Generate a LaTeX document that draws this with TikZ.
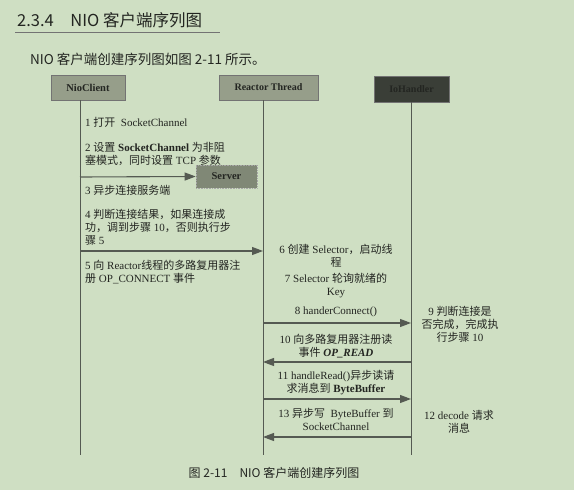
\documentclass[tikz,border=0pt]{standalone}
\usepackage{fontspec}
\setmainfont{Liberation Serif}
\newfontfamily\cjk{Noto Sans CJK SC}
\newcommand\zh[1]{{\cjk #1}}
\usetikzlibrary{arrows.meta}
\definecolor{bg}{RGB}{207,223,195}
\definecolor{boxc}{RGB}{150,158,138}
\definecolor{darkc}{RGB}{58,62,55}
\definecolor{servc}{RGB}{128,136,118}
\definecolor{linec}{RGB}{85,90,82}
\definecolor{txtc}{RGB}{35,37,33}

\begin{document}
\begin{tikzpicture}[x=1pt,y=-1pt,
    actor/.style={draw=black!55,line width=.6pt,minimum width=74pt,minimum height=25pt,inner sep=0pt,
      font=\fontsize{10.5}{11}\selectfont\bfseries,text=txtc},
    life/.style={draw=linec,line width=1pt},
    msg/.style={draw=linec,line width=1.1pt,-{Triangle[length=11pt,width=8pt]}},
    txt/.style={font=\fontsize{11}{13}\selectfont,text=txtc,inner sep=0pt}]
  \fill[bg] (0,0) rectangle (574,490);
  \useasboundingbox (0,0) rectangle (574,490);

  \node[anchor=base west,inner sep=0pt,text=txtc,font=\cjk\fontsize{16.5}{18}\selectfont] (title) at (17,26) {2.3.4\quad NIO 客户端序列图};
  \draw[black!55,line width=.8pt] (15,32) -- (220,32);
  \node[anchor=base west,inner sep=0pt,text=txtc,font=\cjk\fontsize{13.5}{15}\selectfont] (intro) at (30,64) {NIO 客户端创建序列图如图 2-11 所示。};

  \node[actor,fill=boxc] (client) at (88,87.5) {NioClient};
  \node[actor,fill=boxc,minimum width=99pt,font=\fontsize{10}{11}\selectfont\bfseries] (reactor) at (268.5,87.5) {Reactor Thread};
  \node[actor,fill=darkc,minimum width=75pt,minimum height=26pt,font=\fontsize{10}{11}\selectfont\bfseries] (io) at (411.5,89) {IoHandler};

  \coordinate (cend) at (80,455);
  \coordinate (rend) at (263,455);
  \coordinate (iend) at (411,455);
  \draw[life] (client.south -| cend) -- (cend);
  \draw[life] (reactor.south -| rend) -- (rend);
  \draw[life] (io.south -| iend) -- (iend);

  \node[actor,fill=servc,draw=black!35,densely dotted,minimum width=61pt,minimum height=23pt] (server) at (226.5,176.5) {Server};

  \node[txt,anchor=west] (l1) at (85,122) {1 \zh{打开}\ \ SocketChannel};
  \node[txt,anchor=west,align=left] (l2) at (85,154) {2 \zh{设置} \textbf{SocketChannel} \zh{为非阻}\\\zh{塞模式，同时设置} TCP \zh{参数}};
  \node[txt,anchor=west] (l3) at (85,190) {3 \zh{异步连接服务端}};
  \node[txt,anchor=west,align=left] (l4) at (85,227.5) {4 \zh{判断连接结果，如果连接成}\\\zh{功，调到步骤} 10\zh{，否则执行步}\\\zh{骤} 5};
  \node[txt,anchor=west,align=left] (l5) at (85,272.5) {5 \zh{向} Reactor\zh{线程的多路复用器注}\\\zh{册} OP\_CONNECT \zh{事件}};

  \node[txt,align=center] (l6) at (336,255.5) {6 \zh{创建} Selector\zh{，启动线}\\\zh{程}};
  \node[txt,align=center] (l7) at (336,286) {7 Selector \zh{轮询就绪的}\\Key};
  \node[txt,align=center] (l8) at (336,312) {8 handerConnect()};
  \node[txt,align=center] (l9) at (460,324.5) {9 \zh{判断连接是}\\\zh{否完成，完成执}\\\zh{行步骤} 10};
  \node[txt,align=center] (l10) at (336,346.5) {10 \zh{向多路复用器注册读}\\\zh{事件} \textbf{\textit{OP\_READ}}};
  \node[txt,align=center] (l11) at (336,383) {11 handleRead()\zh{异步读请}\\\zh{求消息到} \textbf{ByteBuffer}};
  \node[txt,align=center] (l12) at (459,421.5) {12 decode \zh{请求}\\\zh{消息}};
  \node[txt,align=center] (l13) at (336,419) {13 \zh{异步写}\ \ ByteBuffer \zh{到}\\SocketChannel};

  \coordinate (m3) at (80,177);
  \coordinate (m5a) at (80,251);   \coordinate (m5b) at (263,251);
  \coordinate (m8a) at (263,323);  \coordinate (m8b) at (411,323);
  \coordinate (m10a) at (411,362); \coordinate (m10b) at (263,362);
  \coordinate (m11a) at (263,399); \coordinate (m11b) at (411,399);
  \coordinate (m13a) at (411,437); \coordinate (m13b) at (263,437);
  \draw[msg] (m3) -- (server.west);
  \draw[msg] (m5a) -- (m5b);
  \draw[msg] (m8a) -- (m8b);
  \draw[msg] (m10a) -- (m10b);
  \draw[msg] (m11a) -- (m11b);
  \draw[msg] (m13a) -- (m13b);

  \node[anchor=center,inner sep=0pt,text=txtc,font=\cjk\fontsize{12}{13}\selectfont] (caption) at (274,473) {图 2-11\quad NIO 客户端创建序列图};
\end{tikzpicture}
\end{document}
